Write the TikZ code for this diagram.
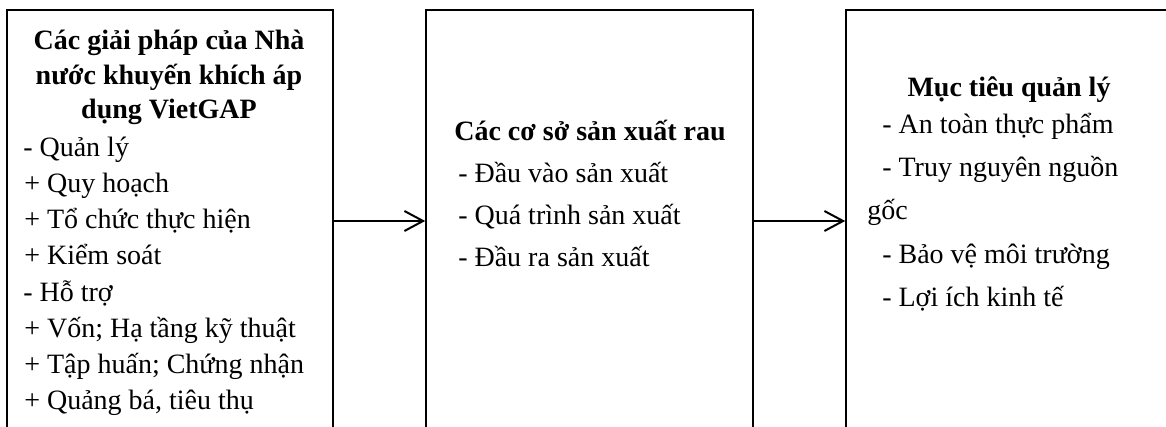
\documentclass[tikz,border=0pt]{standalone}
\usepackage{fontspec}
\setmainfont{Liberation Serif}
\usetikzlibrary{arrows.meta,fit}
\tikzset{
  box/.style={draw=black, line width=1.2pt, inner sep=0pt},
  arr/.style={line width=1.5pt, -{Straight Barb[length=14pt,width=15pt,line width=1.5pt]}},
  ttl/.style={anchor=base, inner sep=0pt, font=\fontsize{21}{26}\selectfont\bfseries},
  itm/.style={anchor=base west, inner sep=0pt, font=\fontsize{21}{26}\selectfont},
}
\begin{document}
\begin{tikzpicture}[x=0.75pt,y=-0.75pt]
\useasboundingbox (0,0) rectangle (1166,427);
\clip (0,0) rectangle (1166,427);
% boxes
\node[box, fit={(7,10) (333,450)}] (L) {};
\node[box, fit={(426,10) (753,450)}] (M) {};
\node[box, fit={(846,10) (1172,450)}] (R) {};
% left box text
\node[ttl] (l1) at (169,50) {Các giải pháp của Nhà};
\node[ttl] (l2) at (169,85) {nước khuyến khích áp};
\node[ttl] (l3) at (169,119) {dụng VietGAP};
\node[itm] (l4) at (23,157) {- Quản lý};
\node[itm] (l5) at (24,193) {+ Quy hoạch};
\node[itm] (l6) at (24,229) {+ Tổ chức thực hiện};
\node[itm] (l7) at (24,265) {+ Kiểm soát};
\node[itm] (l8) at (23,301) {- Hỗ trợ};
\node[itm] (l9) at (24,337) {+ Vốn; Hạ tầng kỹ thuật};
\node[itm] (l10) at (24,373) {+ Tập huấn; Chứng nhận};
\node[itm] (l11) at (24,409) {+ Quảng bá, tiêu thụ};
% middle box text
\node[ttl] (m1) at (590,141) {Các cơ sở sản xuất rau};
\node[itm] (m2) at (458,183) {- Đầu vào sản xuất};
\node[itm] (m3) at (458,225) {- Quá trình sản xuất};
\node[itm] (m4) at (458,267) {- Đầu ra sản xuất};
% right box text
\node[ttl] (r1) at (1009,97) {Mục tiêu quản lý};
\node[itm] (r2) at (882,134) {- An toàn thực phẩm};
\node[itm] (r3) at (882,177) {- Truy nguyên nguồn};
\node[itm] (r4) at (867,220) {gốc};
\node[itm] (r5) at (882,264) {- Bảo vệ môi trường};
\node[itm] (r6) at (882,307) {- Lợi ích kinh tế};
% arrows
\draw[arr] (L.east |- 0,221) -- (M.west |- 0,221);
\draw[arr] (M.east |- 0,221) -- (R.west |- 0,221);
\end{tikzpicture}
\end{document}
